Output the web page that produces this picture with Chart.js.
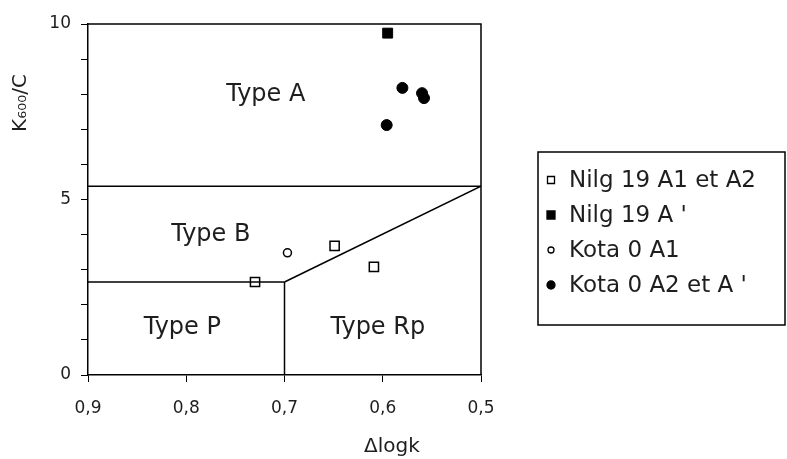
<!DOCTYPE html>
<html><head><meta charset="utf-8">
<script src="https://cdn.jsdelivr.net/npm/chart.js@4/dist/chart.umd.min.js"></script>
<style>html,body{margin:0;padding:0;background:#fff;} #wrap{width:787px;height:459px;}</style>
</head><body><div id="wrap"><canvas id="c" width="787" height="459"></canvas></div>
<script>
// ---- data ----
const xTicks = [0.9, 0.8, 0.7, 0.6, 0.5];
const yTickLabels = [0, 5, 10];
const seriesNames = ["Nilg 19 A1 et A2", "Nilg 19 A '", "Kota 0 A1", "Kota 0 A2 et A '"];
const nilgA1A2X = [0.730, 0.649, 0.609];
const nilgA1A2Y = [2.65, 3.68, 3.08];
const nilgAprimeX = [0.595];
const nilgAprimeY = [9.74];
const kotaA1X = [0.697];
const kotaA1Y = [3.48];
const kotaA2X = [0.596, 0.580, 0.560, 0.558];
const kotaA2Y = [7.12, 8.18, 8.03, 7.89];
// field boundaries (x = Δlogk, y = K600/C)
const boundaryABX = [0.9, 0.5];
const boundaryABY = [5.38, 5.38];
const boundaryBPX = [0.9, 0.7];
const boundaryBPY = [2.65, 2.65];
const boundaryPRpX = [0.7, 0.7];
const boundaryPRpY = [0, 2.65];
const boundaryBRpX = [0.7, 0.5];
const boundaryBRpY = [2.65, 5.38];
const regionNames = ["Type A", "Type B", "Type P", "Type Rp"];
const regionX = [0.719, 0.775, 0.804, 0.605];
const regionY = [7.98, 3.99, 1.34, 1.34];
const xTitle = "\u0394logk";
const yTitle = "K\u2086\u2080\u2080/C";

const zip = (xs, ys) => xs.map((x, i) => ({x: x, y: ys[i]}));
const FONT = "'DejaVu Sans', Verdana, sans-serif";
const TXT = '#1e1e1e';

const lineDs = (xs, ys) => ({
  data: zip(xs, ys), showLine: true, borderColor: '#000', borderWidth: 1.5,
  pointRadius: 0, pointHoverRadius: 0, fill: false
});

const markerStyles = [
  {pointStyle: 'rect', radius: 6.5, fill: '#fff', border: '#000', bw: 1.5},
  {pointStyle: 'rect', radius: 7, fill: '#000', border: '#000', bw: 1},
  {pointStyle: 'circle', radius: 4, fill: '#fff', border: '#000', bw: 1.5},
  {pointStyle: 'circle', radius: 5.5, fill: '#000', border: '#000', bw: 1}
];
const seriesData = [zip(nilgA1A2X, nilgA1A2Y), zip(nilgAprimeX, nilgAprimeY), zip(kotaA1X, kotaA1Y), zip(kotaA2X, kotaA2Y)];

const datasets = [
  lineDs(boundaryABX, boundaryABY),
  lineDs(boundaryBPX, boundaryBPY),
  lineDs(boundaryPRpX, boundaryPRpY),
  lineDs(boundaryBRpX, boundaryBRpY)
].concat(seriesData.map((d, i) => ({
  label: seriesNames[i], data: d, showLine: false,
  pointStyle: markerStyles[i].pointStyle, pointRadius: markerStyles[i].radius,
  pointBackgroundColor: markerStyles[i].fill, pointBorderColor: markerStyles[i].border,
  pointBorderWidth: markerStyles[i].bw
})));

const deco = {
  id: 'deco',
  beforeDatasetsDraw(chart) {
    const ctx = chart.ctx, a = chart.chartArea;
    ctx.save();
    ctx.strokeStyle = '#000'; ctx.lineWidth = 1.5;
    ctx.beginPath();
    ctx.moveTo(a.left, a.top); ctx.lineTo(a.right, a.top); ctx.lineTo(a.right, a.bottom);
    ctx.stroke();
    ctx.restore();
  },
  afterDraw(chart) {
    const ctx = chart.ctx, xs = chart.scales.x, ys = chart.scales.y;
    ctx.save();
    ctx.fillStyle = TXT;
    ctx.textAlign = 'center'; ctx.textBaseline = 'middle';
    ctx.font = '24px ' + FONT;
    regionNames.forEach((n, i) => {
      ctx.fillText(n, xs.getPixelForValue(regionX[i]), ys.getPixelForValue(regionY[i]));
    });
    // axis titles
    ctx.font = '20px ' + FONT;
    ctx.fillText(xTitle, 392, 447);
    ctx.save();
    ctx.translate(21, 103);
    ctx.rotate(-Math.PI / 2);
    ctx.fillText(yTitle, 0, 0);
    ctx.restore();
    // legend
    const lx = 538, ly = 152, lw = 247, lh = 173;
    ctx.strokeStyle = '#000'; ctx.lineWidth = 1.5;
    ctx.strokeRect(lx, ly, lw, lh);
    ctx.textAlign = 'left';
    ctx.font = '23px ' + FONT;
    const rowY = [180, 215, 250, 285];
    seriesNames.forEach((n, i) => {
      const cx = 551, cy = rowY[i], m = markerStyles[i];
      ctx.beginPath();
      if (m.pointStyle === 'rect') {
        const s = m.fill === '#fff' ? 3.5 : 4;
        ctx.rect(cx - s, cy - s, 2 * s, 2 * s);
      } else {
        ctx.arc(cx, cy, m.fill === '#fff' ? 3 : 4, 0, Math.PI * 2);
      }
      ctx.fillStyle = m.fill; ctx.fill();
      ctx.lineWidth = 1.3; ctx.strokeStyle = '#000'; ctx.stroke();
      ctx.fillStyle = TXT;
      ctx.fillText(n, 569, cy + 1);
    });
    ctx.restore();
  }
};

new Chart(document.getElementById('c'), {
  type: 'scatter',
  data: {datasets: datasets},
  options: {
    responsive: false, animation: false, devicePixelRatio: 1,
    layout: {padding: {top: 24, right: 306, left: 0, bottom: 0}},
    plugins: {legend: {display: false}, tooltip: {enabled: false}, title: {display: false}},
    scales: {
      x: {
        type: 'linear', reverse: true, min: 0.5, max: 0.9,
        afterBuildTicks: s => { s.ticks = xTicks.map(v => ({value: v})); },
        afterFit: s => { s.height = 84; },
        ticks: {
          callback: v => Number(v).toFixed(1).replace('.', ','),
          font: {size: 17, family: FONT}, color: TXT, padding: 16, maxRotation: 0
        },
        grid: {drawOnChartArea: false, drawTicks: true, tickLength: 7, color: '#000', lineWidth: 1},
        border: {display: true, color: '#000', width: 1.5}
      },
      y: {
        type: 'linear', min: 0, max: 10,
        afterBuildTicks: s => { const t = []; for (let v = 0; v <= 10; v++) t.push({value: v}); s.ticks = t; },
        afterFit: s => { s.width = 88; },
        ticks: {
          callback: v => yTickLabels.includes(v) ? String(v) : '',
          font: {size: 17, family: FONT}, color: TXT, padding: 10
        },
        grid: {drawOnChartArea: false, drawTicks: true, tickLength: 7, color: '#000', lineWidth: 1},
        border: {display: true, color: '#000', width: 1.5}
      }
    }
  },
  plugins: [deco]
});
</script>
</body></html>
